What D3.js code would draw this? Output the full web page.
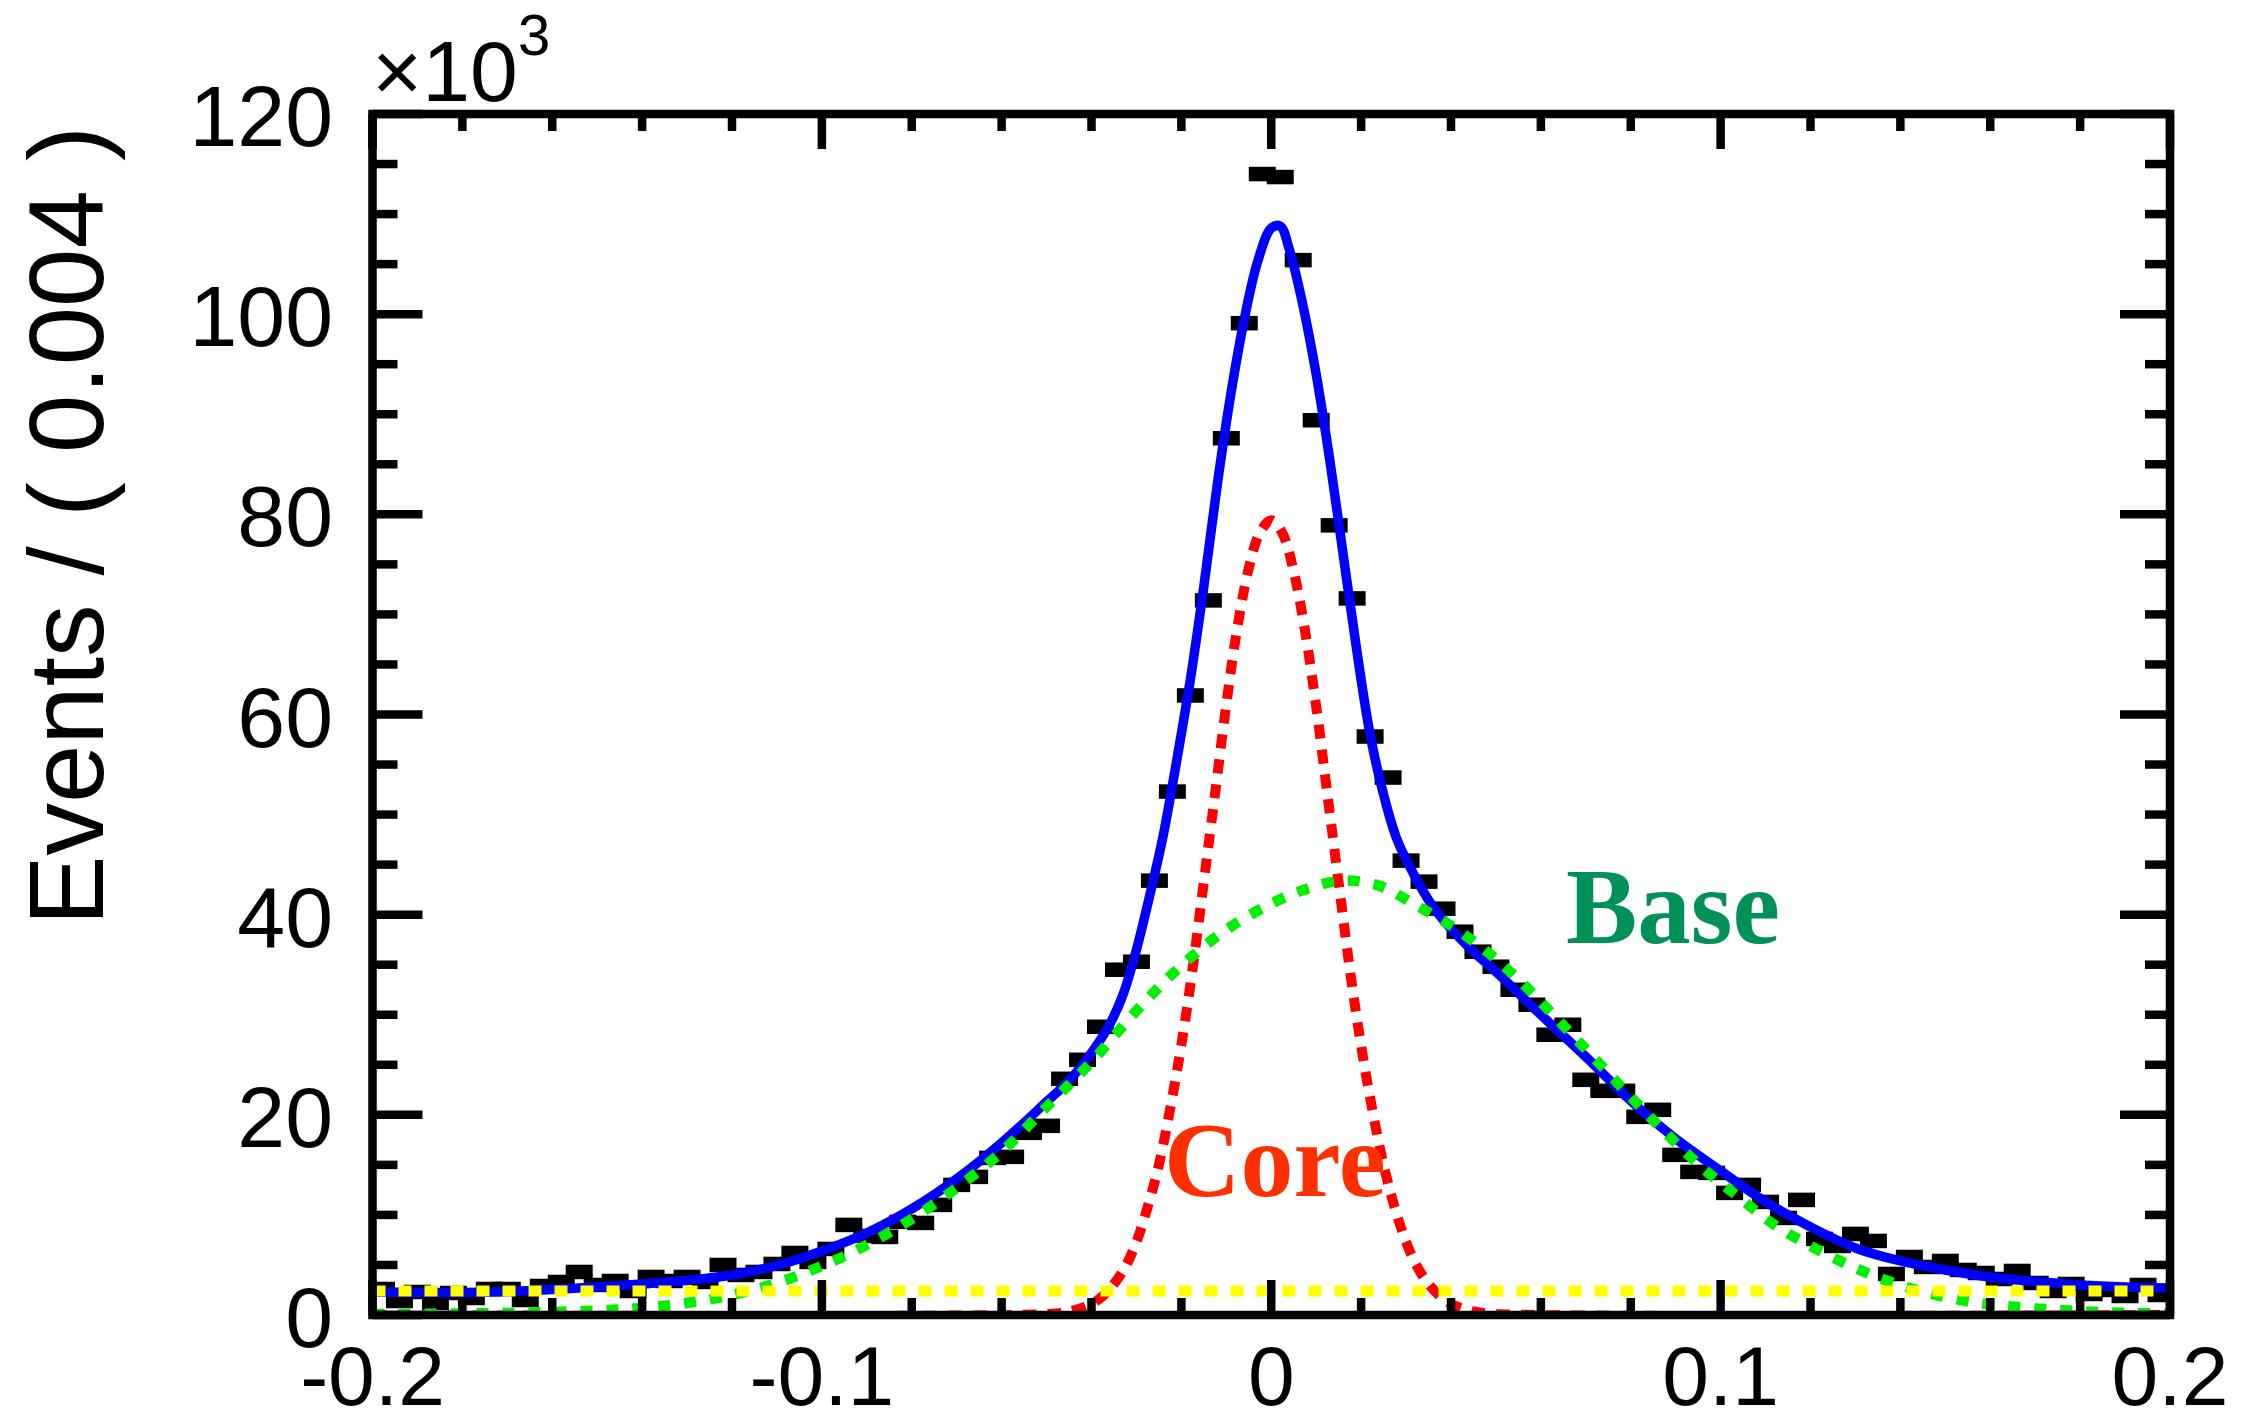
<!DOCTYPE html>
<html>
<head>
<meta charset="utf-8">
<script src="https://cdn.jsdelivr.net/npm/d3@7"></script>
<style>
  html, body { margin: 0; padding: 0; background: #fff; }
  svg { display: block; }
</style>
</head>
<body>
<svg id="chart" width="2252" height="1424"></svg>
<script>
// ---------------- DATA ----------------
const xDomain = [-0.2, 0.2];
const yDomain = [0, 120];            // in units of 10^3 events
const binWidth = 0.004;

// Event counts per bin (x10^3), 100 bins from -0.2 to 0.2
const counts = [
  2.6, 1.4, 2.3, 1.2, 2.2, 1.7, 2.6, 2.6, 1.5, 2.9,
  3.3, 4.3, 3.0, 3.4, 2.4, 3.8, 3.4, 3.8, 3.3, 5.0,
  4.0, 4.3, 5.1, 6.2, 5.3, 6.6, 9.0, 7.9, 7.8, 9.3,
  9.2, 11.0, 13.0, 13.8, 15.7, 15.8, 18.2, 18.9, 23.6, 25.5,
  28.8, 34.5, 35.3, 43.4, 52.3, 61.9, 71.4, 87.6, 99.1, 114.0,
  113.7, 105.4, 89.4, 78.9, 71.6, 57.8, 53.7, 45.4, 43.3, 40.6,
  38.3, 36.3, 34.8, 32.5, 31.0, 28.0, 29.0, 23.5, 22.4, 22.4,
  19.8, 20.5, 16.0, 14.3, 14.2, 12.2, 13.0, 11.3, 9.7, 11.5,
  7.6, 6.9, 8.1, 7.4, 4.1, 5.8, 4.8, 5.4, 4.5, 4.2,
  3.6, 4.4, 3.2, 2.4, 3.1, 2.1, 2.5, 1.9, 3.0, 2.0
];

// Total fit (blue), [x, value x10^3]
const totalCurve = [
  [-0.200, 2.3], [-0.190, 2.25], [-0.180, 2.25], [-0.170, 2.35], [-0.160, 2.55],
  [-0.150, 2.8], [-0.140, 3.1], [-0.130, 3.45], [-0.120, 4.0], [-0.110, 4.95],
  [-0.100, 6.4], [-0.090, 8.2], [-0.080, 10.6], [-0.070, 13.6], [-0.060, 17.2],
  [-0.050, 21.3], [-0.045, 23.4], [-0.040, 26.2], [-0.036, 29.0], [-0.033, 32.0],
  [-0.030, 36.5], [-0.027, 42.0], [-0.024, 48.0], [-0.021, 55.5], [-0.018, 63.5],
  [-0.015, 72.8], [-0.012, 83.0], [-0.009, 92.0], [-0.006, 99.5], [-0.003, 105.3],
  [0.000, 108.6], [0.002, 108.8], [0.004, 106.5], [0.007, 101.0], [0.010, 94.0],
  [0.013, 85.5], [0.016, 76.0], [0.019, 66.5], [0.022, 58.0], [0.025, 52.0],
  [0.028, 47.5], [0.032, 43.8], [0.036, 40.8], [0.040, 38.6], [0.045, 36.3],
  [0.050, 34.3], [0.060, 30.0], [0.070, 25.8], [0.080, 21.4], [0.090, 17.6],
  [0.100, 14.4], [0.110, 11.3], [0.120, 8.8], [0.130, 6.7], [0.140, 5.4],
  [0.150, 4.5], [0.160, 3.8], [0.170, 3.35], [0.180, 3.0], [0.190, 2.8], [0.200, 2.7]
];

// Core component (red dotted)
const coreCurve = [
  [-0.200, 0], [-0.050, 0.1], [-0.045, 0.35], [-0.040, 1.1], [-0.0375, 1.9],
  [-0.035, 3.1], [-0.0325, 4.8], [-0.030, 7.3], [-0.0275, 10.8], [-0.025, 15.0],
  [-0.0225, 20.6], [-0.020, 27.0], [-0.0175, 34.6], [-0.015, 43.3], [-0.0125, 52.1],
  [-0.010, 61.0], [-0.0075, 68.8], [-0.005, 74.6], [-0.0025, 78.2], [0.000, 79.4],
  [0.0025, 78.1], [0.005, 74.3], [0.0075, 68.4], [0.010, 60.8], [0.0125, 52.0],
  [0.015, 43.2], [0.0175, 34.5], [0.020, 26.9], [0.0225, 20.5], [0.025, 15.0],
  [0.0275, 10.7], [0.030, 7.3], [0.0325, 4.8], [0.035, 3.1], [0.0375, 1.9],
  [0.040, 1.1], [0.045, 0.35], [0.050, 0.1], [0.200, 0]
];

// Base component (green dotted)
const baseCurve = [
  [-0.200, 0.1], [-0.180, 0.15], [-0.165, 0.25], [-0.150, 0.45], [-0.140, 0.7],
  [-0.130, 1.2], [-0.120, 2.0], [-0.110, 3.2], [-0.100, 4.9], [-0.090, 7.0],
  [-0.080, 9.6], [-0.070, 12.7], [-0.060, 16.3], [-0.050, 20.8], [-0.040, 25.3],
  [-0.030, 30.4], [-0.020, 34.9], [-0.010, 38.5], [0.000, 41.1], [0.008, 42.6],
  [0.016, 43.4], [0.024, 42.9], [0.032, 41.0], [0.040, 38.9], [0.048, 36.3],
  [0.056, 33.1], [0.064, 29.4], [0.072, 25.6], [0.080, 21.8], [0.088, 18.1],
  [0.096, 14.7], [0.104, 11.8], [0.112, 9.0], [0.120, 6.9], [0.128, 5.1],
  [0.136, 3.6], [0.144, 2.45], [0.152, 1.6], [0.160, 1.05], [0.170, 0.65],
  [0.180, 0.38], [0.190, 0.22], [0.200, 0.15]
];

// Flat background component (yellow dotted)
const flatCurve = [[-0.200, 2.4], [0.200, 2.4]];

// Axis ticks and labels
const xMajorTicks = [-0.2, -0.1, 0, 0.1, 0.2];
const xTickLabels = ["-0.2", "-0.1", "0", "0.1", "0.2"];
const xMinorStep = 0.02;
const yMajorTicks = [0, 20, 40, 60, 80, 100, 120];
const yTickLabels = ["0", "20", "40", "60", "80", "100", "120"];
const yMinorStep = 5;
const yTitle = "Events / ( 0.004 )";
const labelCore = "Core";
const labelBase = "Base";

// ---------------- LAYOUT ----------------
const frame = { left: 372.5, right: 2170, top: 114, bottom: 1315 };
const svg = d3.select("#chart");
const x = d3.scaleLinear().domain(xDomain).range([frame.left, frame.right]);
const y = d3.scaleLinear().domain(yDomain).range([frame.bottom, frame.top]);

svg.append("rect").attr("width", 2252).attr("height", 1424).attr("fill", "#fff");

svg.append("defs").append("clipPath").attr("id", "plotClip")
  .append("rect")
  .attr("x", frame.left).attr("y", frame.top)
  .attr("width", frame.right - frame.left).attr("height", frame.bottom - frame.top);

const plot = svg.append("g").attr("clip-path", "url(#plotClip)");

// Data markers
const binCenters = counts.map((_, i) => xDomain[0] + binWidth * (i + 0.5));
const halfW = (x(binWidth) - x(0)) / 2 + 4.5;
const markH = 14.5;
plot.append("g").selectAll("rect")
  .data(counts)
  .join("rect")
  .attr("x", (d, i) => x(binCenters[i]) - halfW)
  .attr("y", d => y(d) - markH / 2)
  .attr("width", 2 * halfW)
  .attr("height", markH)
  .attr("fill", "#000");

const line = d3.line().x(d => x(d[0])).y(d => y(d[1])).curve(d3.curveCatmullRom.alpha(0.5));
const straight = d3.line().x(d => x(d[0])).y(d => y(d[1]));

plot.append("path").attr("d", line(totalCurve))
  .attr("fill", "none").attr("stroke", "#0000ff").attr("stroke-width", 9.5);
plot.append("path").attr("d", line(coreCurve))
  .attr("fill", "none").attr("stroke", "#ff0000").attr("stroke-width", 10)
  .attr("stroke-dasharray", "14 11");
plot.append("path").attr("d", line(baseCurve))
  .attr("fill", "none").attr("stroke", "#00f000").attr("stroke-width", 10.5)
  .attr("stroke-dasharray", "12 14");
plot.append("path").attr("d", straight(flatCurve))
  .attr("fill", "none").attr("stroke", "#ffff00").attr("stroke-width", 11)
  .attr("stroke-dasharray", "13 13");

// Frame and ticks
const axes = svg.append("g").attr("stroke", "#000").attr("stroke-width", 8.5).attr("fill", "none");
axes.append("rect")
  .attr("x", frame.left).attr("y", frame.top)
  .attr("width", frame.right - frame.left).attr("height", frame.bottom - frame.top);

const xMinor = d3.range(xDomain[0], xDomain[1] + 1e-9, xMinorStep);
const yMinor = d3.range(yDomain[0], yDomain[1] + 1e-9, yMinorStep);
const isMajor = (v, arr) => arr.some(m => Math.abs(m - v) < 1e-9);

xMinor.forEach(v => {
  const len = isMajor(v, xMajorTicks) ? 35 : 17;
  const px = x(v);
  axes.append("line").attr("x1", px).attr("x2", px).attr("y1", frame.bottom).attr("y2", frame.bottom - len);
  axes.append("line").attr("x1", px).attr("x2", px).attr("y1", frame.top).attr("y2", frame.top + len);
});
yMinor.forEach(v => {
  const len = isMajor(v, yMajorTicks) ? 50 : 25;
  const py = y(v);
  axes.append("line").attr("y1", py).attr("y2", py).attr("x1", frame.left).attr("x2", frame.left + len);
  axes.append("line").attr("y1", py).attr("y2", py).attr("x1", frame.right).attr("x2", frame.right - len);
});

// Tick labels
const labelFont = "'Liberation Sans', Arial, Helvetica, sans-serif";
svg.append("g").selectAll("text").data(xMajorTicks).join("text")
  .attr("x", d => x(d)).attr("y", 1405)
  .attr("text-anchor", "middle")
  .attr("font-family", labelFont).attr("font-size", 84)
  .text((d, i) => xTickLabels[i]);

svg.append("g").selectAll("text").data(yMajorTicks).join("text")
  .attr("x", 333).attr("y", d => y(d) + 32)
  .attr("text-anchor", "end")
  .attr("font-family", labelFont).attr("font-size", 86)
  .text((d, i) => yTickLabels[i]);

// Exponent
const expo = svg.append("text").attr("x", 372).attr("y", 101)
  .attr("font-family", labelFont).attr("font-size", 86);
expo.append("tspan").text("\u00d710");
expo.append("tspan").attr("font-size", 58).attr("dy", -46).text("3");

// Y title
svg.append("text")
  .attr("transform", "translate(103,126) rotate(-90)")
  .attr("text-anchor", "end")
  .attr("font-family", labelFont).attr("font-size", 105)
  .text(yTitle);

// Component labels
svg.append("text").attr("x", 1164).attr("y", 1196)
  .attr("font-family", "'Liberation Serif', 'Times New Roman', serif")
  .attr("font-weight", "bold").attr("font-size", 106)
  .attr("fill", "#ff3000").text(labelCore);
svg.append("text").attr("x", 1566).attr("y", 943)
  .attr("font-family", "'Liberation Serif', 'Times New Roman', serif")
  .attr("font-weight", "bold").attr("font-size", 107)
  .attr("fill", "#00905a").text(labelBase);
</script>
</body>
</html>
